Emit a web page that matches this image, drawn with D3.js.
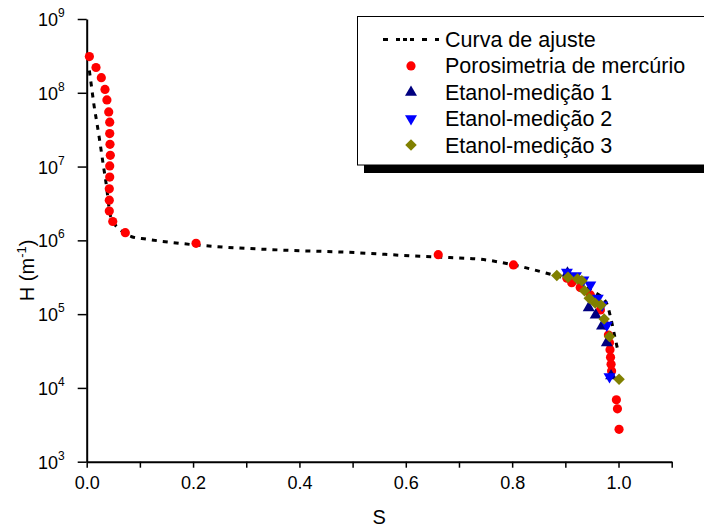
<!DOCTYPE html>
<html>
<head>
<meta charset="utf-8">
<script src="https://cdn.jsdelivr.net/npm/d3@7"></script>
<style>
  body { margin: 0; background: #fff; }
  svg { font-family: "Liberation Sans", Arial, sans-serif; }
</style>
</head>
<body>
<svg class="chart_svg" width="704" height="529"></svg>
<script>
// fitted curve (S, H)
var fitS = [0.005, 0.0094, 0.0137, 0.0188, 0.0237, 0.0312, 0.0363, 0.0451, 0.0658, 0.0846, 0.1115, 0.1755, 0.3636, 0.489, 0.614, 0.683, 0.740, 0.802, 0.865, 0.919, 0.951, 0.977, 0.986, 0.993, 1.000];
var fitH = [2.0e8, 1.16e8, 6.8e7, 4.06e7, 2.44e7, 1.05e7, 6.05e6, 2.1e6, 1.34e6, 1.12e6, 1.04e6, 9.1e5, 7.4e5, 6.9e5, 6.15e5, 5.84e5, 5.55e5, 4.65e5, 3.58e5, 2.73e5, 2.06e5, 1.43e5, 8.5e4, 4.96e4, 2.95e4];

// porosimetria de mercurio
var hgS = [0.005, 0.0175, 0.0275, 0.0344, 0.038, 0.0414, 0.0433, 0.0433, 0.0438, 0.0444, 0.0433, 0.0433, 0.0425, 0.0425, 0.0425, 0.049, 0.0726, 0.2056, 0.661, 0.8025,
           0.903, 0.912, 0.928, 0.947, 0.966, 0.975, 0.981, 0.983, 0.984, 0.985, 0.986, 0.987, 0.996, 0.998, 1.001];
var hgH = [3.1e8, 2.2e8, 1.6e8, 1.11e8, 8.0e7, 5.5e7, 4.0e7, 2.8e7, 2.0e7, 1.42e7, 1.02e7, 7.2e6, 5.0e6, 3.5e6, 2.5e6, 1.8e6, 1.27e6, 9.1e5, 6.4e5, 4.65e5,
           3.07e5, 2.67e5, 2.29e5, 1.82e5, 1.14e5, 7.1e4, 5.2e4, 4.1e4, 3.3e4, 2.6e4, 2.1e4, 1.7e4, 6.9e3, 5.2e3, 2.75e3];

// etanol medicoes
var et1S = [0.904, 0.944, 0.957, 0.969, 0.978, 0.986];
var et1H = [3.6e5, 1.22e5, 9.7e4, 6.9e4, 4.1e4, 1.46e4];
var et2S = [0.903, 0.920, 0.934, 0.947, 0.961, 0.969, 0.978, 0.983];
var et2H = [3.7e5, 3.33e5, 2.9e5, 2.49e5, 1.64e5, 1.33e5, 7.1e4, 1.42e4];
var et3S = [0.884, 0.905, 0.923, 0.931, 0.936, 0.945, 0.956, 0.967, 0.973, 0.983, 1.001];
var et3H = [3.33e5, 3.16e5, 3.0e5, 2.84e5, 2.08e5, 1.64e5, 1.41e5, 1.33e5, 8.6e4, 4.96e4, 1.31e4];

var xTicks = [0, 0.2, 0.4, 0.6, 0.8, 1.0];
var yExp = [3, 4, 5, 6, 7, 8, 9];
var legendNames = ["Curva de ajuste", "Porosimetria de mercúrio", "Etanol-medição 1", "Etanol-medição 2", "Etanol-medição 3"];

var svg = d3.select(".chart_svg"),
    pLeft = 86.7, pRight = 671.7, pTop = 19, pBottom = 461.7;

var x = d3.scaleLinear().domain([0, 1.1]).range([pLeft, pRight]);
var y = d3.scaleLog().domain([1e3, 1e9]).range([pBottom, pTop]);

// axes
var xAxis = svg.append("g")
    .attr("transform", "translate(0," + pBottom + ")")
    .call(d3.axisBottom(x).tickValues(d3.range(0, 12).map(function (i) { return i / 10; }))
        .tickSize(6).tickSizeOuter(0)
        .tickFormat(function (d) { return xTicks.some(function (t) { return Math.abs(t - d) < 1e-6; }) ? d3.format(".1f")(d) : ""; }));
xAxis.select(".domain").attr("stroke-width", 2);
xAxis.selectAll(".tick line").attr("stroke-width", 1.5);
xAxis.selectAll(".tick text").style("font-size", "18px").attr("dy", "1.0em").attr("fill", "#000");

var yMinor = [];
yExp.slice(0, -1).forEach(function (e) {
    for (var k = 2; k < 10; k++) yMinor.push(k * Math.pow(10, e));
});
var yAxisG = svg.append("g").attr("transform", "translate(" + pLeft + ",0)");
yAxisG.call(d3.axisLeft(y).tickValues(yMinor).tickSize(5).tickSizeOuter(0).tickFormat(""));
yAxisG.call(d3.axisLeft(y).tickValues(yExp.map(function (e) { return Math.pow(10, e); })).tickSize(9).tickSizeOuter(0).tickFormat(""));
yAxisG.selectAll(".domain").attr("stroke-width", 2);
yAxisG.selectAll(".tick line").attr("stroke-width", 1.5);

var yLab = svg.append("g").selectAll("text")
    .data(yExp)
    .enter().append("text")
    .attr("x", 38)
    .attr("y", function (d) { return y(Math.pow(10, d)) + 7; })
    .style("font-size", "18px");
yLab.append("tspan").text("10");
yLab.append("tspan").attr("dy", -9).style("font-size", "12px").text(function (d) { return d; });

// axis titles
svg.append("text").attr("x", (pLeft + pRight) / 2).attr("y", 524)
    .attr("text-anchor", "middle").style("font-size", "20px").text("S");
var yt = svg.append("text")
    .attr("transform", "translate(34," + ((pTop + pBottom) / 2 + 30) + ") rotate(-90)")
    .attr("text-anchor", "middle").style("font-size", "20px");
yt.append("tspan").text("H (m");
yt.append("tspan").attr("dy", -8).style("font-size", "13px").text("-1");
yt.append("tspan").attr("dy", 8).text(")");

// fitted curve
var line = d3.line()
    .x(function (d) { return x(d[0]); })
    .y(function (d) { return y(d[1]); })
    .curve(d3.curveMonotoneX);
svg.append("path")
    .datum(d3.zip(fitS, fitH))
    .attr("d", line)
    .attr("fill", "none")
    .attr("stroke", "#000")
    .attr("stroke-width", 3)
    .attr("stroke-dasharray", "5,6");

// markers
var triUp = d3.symbol().type(d3.symbolTriangle).size(62);
var diamond = d3.symbol().type(d3.symbolSquare).size(66);

svg.append("g").selectAll("circle")
    .data(d3.zip(hgS, hgH))
    .enter().append("circle")
    .attr("cx", function (d) { return x(d[0]); })
    .attr("cy", function (d) { return y(d[1]); })
    .attr("r", 4.6)
    .attr("fill", "#ff0000");

svg.append("g").selectAll("path")
    .data(d3.zip(et1S, et1H))
    .enter().append("path")
    .attr("d", triUp())
    .attr("transform", function (d) { return "translate(" + x(d[0]) + "," + y(d[1]) + ")"; })
    .attr("fill", "#000080");

svg.append("g").selectAll("path")
    .data(d3.zip(et2S, et2H))
    .enter().append("path")
    .attr("d", triUp())
    .attr("transform", function (d) { return "translate(" + x(d[0]) + "," + y(d[1]) + ") rotate(180)"; })
    .attr("fill", "#0000ff");

svg.append("g").selectAll("path")
    .data(d3.zip(et3S, et3H))
    .enter().append("path")
    .attr("d", diamond())
    .attr("transform", function (d) { return "translate(" + x(d[0]) + "," + y(d[1]) + ") rotate(45)"; })
    .attr("fill", "#808000");

// legend
var lg = svg.append("g").attr("class", "legend");
lg.append("rect").attr("x", 364).attr("y", 165).attr("width", 350).attr("height", 8).attr("fill", "#000");
lg.append("rect").attr("x", 357.5).attr("y", 16.5).attr("width", 350).attr("height", 148.5)
    .attr("fill", "#fff").attr("stroke", "#000").attr("stroke-width", 1);

var rowY = function (i) { return 39.5 + i * 26.4; };
lg.selectAll("text.leg")
    .data(legendNames)
    .enter().append("text")
    .attr("class", "leg")
    .attr("x", 445)
    .attr("y", function (d, i) { return rowY(i) + 7.5; })
    .style("font-size", "21.5px")
    .text(function (d) { return d; });

lg.append("line").attr("x1", 383).attr("x2", 439).attr("y1", rowY(0)).attr("y2", rowY(0))
    .attr("stroke", "#000").attr("stroke-width", 3).attr("stroke-dasharray", "5,8,4,3,4,3,4,8");
lg.append("circle").attr("cx", 411).attr("cy", rowY(1)).attr("r", 4.6).attr("fill", "#ff0000");
lg.append("path").attr("d", triUp()).attr("transform", "translate(411," + rowY(2) + ")").attr("fill", "#000080");
lg.append("path").attr("d", triUp()).attr("transform", "translate(411," + rowY(3) + ") rotate(180)").attr("fill", "#0000ff");
lg.append("path").attr("d", diamond()).attr("transform", "translate(411," + rowY(4) + ") rotate(45)").attr("fill", "#808000");
</script>
</body>
</html>
